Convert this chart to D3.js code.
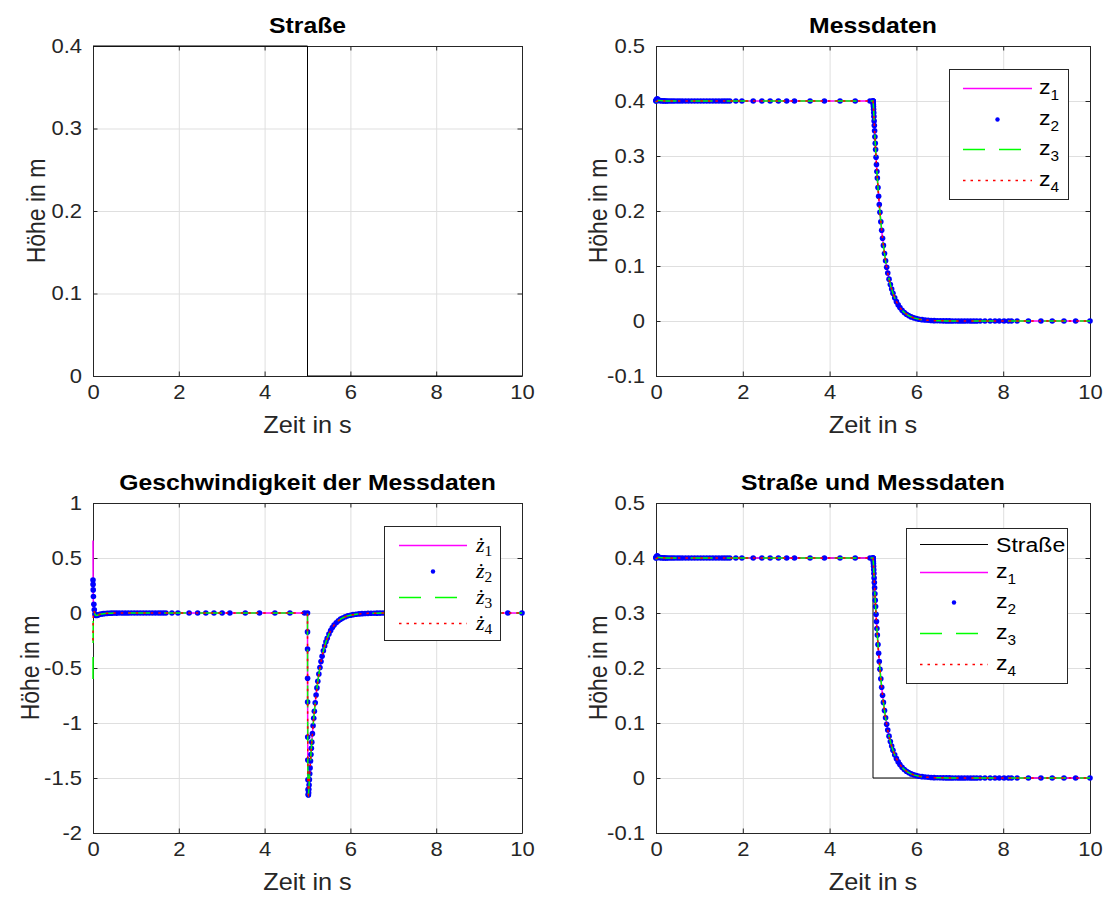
<!DOCTYPE html>
<html>
<head>
<meta charset="utf-8">
<script src="https://cdn.jsdelivr.net/npm/d3@7"></script>
<style>
  body { margin: 0; background: #fff; }
  svg { display: block; }
</style>
</head>
<body>
<svg id="fig" width="1110" height="900"></svg>
<script>
// ---------- data ----------
// road profile (step down at t = 5 s)
const roadTime   = [0, 5, 5, 10];
const roadHeight = [0.4, 0.4, 0, 0];

// solver time samples, split into segments
const timeStart = [0, 0.002, 0.005, 0.01, 0.02, 0.03];
const timeEarly = [0.045, 0.06, 0.08, 0.1, 0.13, 0.16, 0.2, 0.24, 0.28, 0.33,
                   0.38, 0.43, 0.49, 0.55, 0.61, 0.68, 0.75, 0.82, 0.89, 0.96,
                   1.03, 1.1, 1.17, 1.24, 1.31, 1.38, 1.45, 1.52, 1.58, 1.64];
const timeHold  = [1.7, 1.84, 1.98, 2.24, 2.44, 2.63, 2.82, 3.01, 3.19, 3.55, 3.88, 4.24, 4.59, 4.93];
const timeDrop  = [5, 5.0005, 5.001, 5.002, 5.003, 5.005, 5.007, 5.01, 5.013, 5.017,
                   5.021, 5.026, 5.031, 5.037, 5.044, 5.052, 5.06, 5.07, 5.08, 5.09,
                   5.1, 5.115, 5.13, 5.145, 5.16, 5.18, 5.2, 5.22, 5.24, 5.265,
                   5.29, 5.315, 5.34, 5.37, 5.4, 5.43, 5.46, 5.5, 5.54, 5.58,
                   5.62, 5.67, 5.72, 5.77, 5.82, 5.88, 5.94, 6, 6.06, 6.13,
                   6.2, 6.27, 6.34, 6.41, 6.48, 6.55, 6.62, 6.69, 6.76, 6.83,
                   6.9, 6.97, 7.04, 7.11, 7.18, 7.25, 7.32, 7.39, 7.47];
const timeLate  = [7.58, 7.7, 7.81, 7.91, 8.02, 8.12, 8.19, 8.32, 8.58, 8.87, 9.13, 9.4, 9.67, 10];

// measured heights z1..z4 (individual start transients, common afterwards)
const z1Start = [0.4, 0.401, 0.4018, 0.4023, 0.4026, 0.4027];
const z2Start = [0.4, 0.4006, 0.4013, 0.4022, 0.4033, 0.4038];
const z3Start = [0.4, 0.3991, 0.3985, 0.3985, 0.3988, 0.3991];
const z4Start = [0.4, 0.3996, 0.3994, 0.3994, 0.3996, 0.3998];
const zEarly = [0.4012, 0.4011, 0.4009, 0.4007, 0.4005, 0.4003, 0.4002, 0.4001, 0.4, 0.4,
                0.4, 0.4, 0.4, 0.4, 0.4, 0.4, 0.4, 0.4, 0.4, 0.4,
                0.4, 0.4, 0.4, 0.4, 0.4, 0.4, 0.4, 0.4, 0.4, 0.4];
const zHold  = [0.4, 0.4, 0.4, 0.4, 0.4, 0.4, 0.4, 0.4, 0.4, 0.4, 0.4, 0.4, 0.4, 0.4];
const zDrop  = [0.4, 0.39996, 0.39983, 0.39936, 0.39865, 0.39668, 0.39419, 0.38985, 0.38511, 0.37855,
                0.3719, 0.36362, 0.3555, 0.34594, 0.3351, 0.32315, 0.3116, 0.29777, 0.28451, 0.27186,
                0.25982, 0.24268, 0.22667, 0.21173, 0.19778, 0.18059, 0.16491, 0.15058, 0.13749, 0.12275,
                0.10953, 0.09778, 0.08726, 0.07613, 0.06643, 0.05796, 0.05059, 0.04216, 0.03516, 0.02931,
                0.02444, 0.01948, 0.01551, 0.01236, 0.00986, 0.00749, 0.00569, 0.00434, 0.00331, 0.00241,
                0.00176, 0.00127, 0.00094, 0.00065, 0.00049, 0.00036, 0.00026, 0.00019, 0.00014, 0.0001,
                0.00007, 0.00005, 0.00004, 0.00003, 0.00002, 0.00001, 0.00001, 0.00001, 0];
const zLate  = [0, 0, 0, 0, 0, 0, 0, 0, 0, 0, 0, 0, 0, 0];

// vertical speeds dz1..dz4
const dz1Start = [0.66, 0.38, 0.16, 0.05, 0.02, 0];
const dz2Start = [0.3, 0.26, 0.21, 0.15, 0.08, 0.03];
const dz3Start = [-0.6, -0.3, -0.08, 0.02, 0.03, 0.01];
const dz4Start = [-0.25, -0.12, -0.03, 0.01, 0.02, 0.01];
const dzEarly = [-0.01, -0.02, -0.022, -0.02, -0.016, -0.012, -0.009, -0.006, -0.004, -0.003,
                 -0.002, -0.0015, -0.001, -0.0007, -0.0005, -0.0003, -0.0002, -0.0001, 0, 0,
                 0, 0, 0, 0, 0, 0, 0, 0, 0, 0];
const dzHold  = [0, 0, 0, 0, 0, 0, 0, 0, 0, 0, 0, 0, 0, 0];
const dzDrop  = [0, -0.172, -0.327, -0.593, -0.81, -1.128, -1.336, -1.517, -1.606, -1.651,
                 -1.654, -1.634, -1.603, -1.563, -1.515, -1.461, -1.408, -1.346, -1.286, -1.229,
                 -1.174, -1.097, -1.025, -0.957, -0.894, -0.816, -0.745, -0.681, -0.621, -0.555,
                 -0.495, -0.442, -0.394, -0.344, -0.3, -0.262, -0.229, -0.191, -0.159, -0.132,
                 -0.11, -0.088, -0.07, -0.056, -0.045, -0.034, -0.026, -0.02, -0.015, -0.011,
                 -0.008, -0.006, -0.004, -0.003, -0.002, -0.0016, -0.0012, -0.0008, -0.0006, -0.0004,
                 -0.0003, -0.0002, -0.0002, -0.0001, -0.0001, -0.0001, 0, 0, 0];
const dzLate  = [0, 0, 0, 0, 0, 0, 0, 0, 0, 0, 0, 0, 0, 0];

// tick values
const xTicks      = [0, 2, 4, 6, 8, 10];
const roadTicks   = [0, 0.1, 0.2, 0.3, 0.4];
const heightTicks = [-0.1, 0, 0.1, 0.2, 0.3, 0.4, 0.5];
const speedTicks  = [-2, -1.5, -1, -0.5, 0, 0.5, 1];

// ---------- assemble series ----------
const timeAll = timeStart.concat(timeEarly, timeHold, timeDrop, timeLate);
const zCommon  = zEarly.concat(zHold, zDrop, zLate);
const dzCommon = dzEarly.concat(dzHold, dzDrop, dzLate);
const zSeries  = [z1Start, z2Start, z3Start, z4Start].map(s => s.concat(zCommon));
const dzSeries = [dz1Start, dz2Start, dz3Start, dz4Start].map(s => s.concat(dzCommon));

// ---------- styling ----------
const SX = 1.1;                      // horizontal text stretch
const FONT = '"Liberation Sans", Arial, Helvetica, sans-serif';
const SERIF = '"Liberation Serif", "Times New Roman", serif';
const AXIS = '#262626';
const GRID = '#dfdfdf';
const TICK = 4.5;

const styles = {
  road: { stroke: '#000000', width: 1 },
  z1:   { stroke: '#ff00ff', width: 1.5 },
  z2:   { marker: '#0000ff', r: 2.8, legendR: 2.2 },
  z3:   { stroke: '#00ff00', width: 1.5, dash: '22,14' },
  z4:   { stroke: '#ff0000', width: 1.5, dash: '2.5,5' }
};
const seriesKeys = ['z1', 'z2', 'z3', 'z4'];

const svg = d3.select('#fig');

function addText(parent, x, y, str, o = {}) {
  const t = parent.append('text')
    .attr('transform', `translate(${x},${y}) scale(${SX},1)` + (o.rotate ? ' rotate(-90)' : ''))
    .attr('font-family', o.family || FONT)
    .attr('font-size', o.size || 20)
    .attr('font-weight', o.weight || 'normal')
    .attr('font-style', o.style || 'normal')
    .attr('fill', o.fill || '#000')
    .attr('text-anchor', o.anchor || 'start');
  if (o.dy) t.attr('dy', o.dy);
  t.text(str);
  return t;
}

function makePanel(box, yDomain, yTicks, title) {
  const g = svg.append('g');
  const x = d3.scaleLinear().domain([0, 10]).range([box.x0, box.x1]);
  const y = d3.scaleLinear().domain(yDomain).range([box.y1, box.y0]);
  const w = box.x1 - box.x0, h = box.y1 - box.y0;
  const fmt = v => String(v);

  // grid
  g.append('g').attr('transform', `translate(0,${box.y1})`)
    .call(d3.axisBottom(x).tickValues(xTicks).tickSize(-h).tickFormat(''))
    .call(a => { a.select('.domain').remove(); a.selectAll('line').attr('stroke', GRID); });
  g.append('g').attr('transform', `translate(${box.x0},0)`)
    .call(d3.axisLeft(y).tickValues(yTicks).tickSize(-w).tickFormat(''))
    .call(a => { a.select('.domain').remove(); a.selectAll('line').attr('stroke', GRID); });

  const styleAxis = a => {
    a.attr('font-family', FONT).attr('font-size', 20);
    a.select('.domain').attr('stroke', AXIS);
    a.selectAll('line').attr('stroke', AXIS);
    a.selectAll('text').attr('fill', AXIS).attr('transform', `scale(${SX},1)`);
  };
  g.append('g').attr('transform', `translate(0,${box.y1})`)
    .call(d3.axisBottom(x).tickValues(xTicks).tickSizeInner(-TICK).tickSizeOuter(0).tickPadding(9).tickFormat(fmt))
    .call(styleAxis);
  g.append('g').attr('transform', `translate(0,${box.y0})`)
    .call(d3.axisTop(x).tickValues(xTicks).tickSizeInner(-TICK).tickSizeOuter(0).tickFormat(''))
    .call(styleAxis);
  g.append('g').attr('transform', `translate(${box.x0},0)`)
    .call(d3.axisLeft(y).tickValues(yTicks).tickSizeInner(-TICK).tickSizeOuter(0).tickPadding(10).tickFormat(fmt))
    .call(styleAxis);
  g.append('g').attr('transform', `translate(${box.x1},0)`)
    .call(d3.axisRight(y).tickValues(yTicks).tickSizeInner(-TICK).tickSizeOuter(0).tickFormat(''))
    .call(styleAxis);

  // labels
  const cx = (box.x0 + box.x1) / 2, cy = (box.y0 + box.y1) / 2;
  addText(g, cx, box.y0 - 13, title, { size: 22.5, weight: 'bold', anchor: 'middle' });
  addText(g, cx, box.y1 + 57, 'Zeit in s', { size: 23, anchor: 'middle', fill: AXIS });
  addText(g, box.ylab, cy, 'Höhe in m', { size: 23, anchor: 'middle', fill: AXIS, rotate: true, dy: '0.35em' });

  const data = g.append('g');
  return { g, data, x, y };
}

function drawSeries(p, t, v, st) {
  const pts = t.map((ti, i) => [ti, v[i]]);
  if (st.marker) {
    p.data.append('g').selectAll('circle').data(pts).join('circle')
      .attr('cx', d => p.x(d[0])).attr('cy', d => p.y(d[1]))
      .attr('r', st.r).attr('fill', st.marker);
  } else {
    const line = d3.line().x(d => p.x(d[0])).y(d => p.y(d[1]));
    p.data.append('path').attr('d', line(pts))
      .attr('fill', 'none').attr('stroke', st.stroke)
      .attr('stroke-width', st.width)
      .attr('stroke-dasharray', st.dash || null);
  }
}

function drawLegend(box, rows) {
  const g = svg.append('g');
  g.append('rect').attr('x', box.x).attr('y', box.y).attr('width', box.w).attr('height', box.h)
    .attr('fill', '#fff').attr('stroke', AXIS).attr('stroke-width', 1);
  rows.forEach(r => {
    const st = styles[r.key];
    if (st.marker) {
      g.append('circle').attr('cx', (box.s0 + box.s1) / 2).attr('cy', r.y).attr('r', st.legendR).attr('fill', st.marker);
    } else {
      g.append('line').attr('x1', box.s0).attr('x2', box.s1).attr('y1', r.y).attr('y2', r.y)
        .attr('stroke', st.stroke).attr('stroke-width', st.width)
        .attr('stroke-dasharray', st.dash || null);
    }
    if (r.math) {
      const t = addText(g, box.tx, r.y + 6, '', { size: 20, family: SERIF });
      t.append('tspan').attr('font-style', 'italic').text('ż');
      t.append('tspan').attr('font-size', 14).attr('dy', 4.5).text(r.sub);
    } else if (r.sub) {
      const t = addText(g, box.tx, r.y + 5.5, '', { size: 21 });
      t.append('tspan').text(r.label);
      t.append('tspan').attr('font-size', 14).attr('dy', 6).text(r.sub);
    } else {
      addText(g, box.tx, r.y + 7.5, r.label, { size: 21 });
    }
  });
}

// ---------- panels ----------
const pRoad  = makePanel({ x0: 93,  x1: 522,  y0: 46,  y1: 376, ylab: 36 },  [0, 0.4],  roadTicks,   'Straße');
const pMeas  = makePanel({ x0: 656, x1: 1090, y0: 46,  y1: 376, ylab: 598 }, [-0.1, 0.5], heightTicks, 'Messdaten');
const pSpeed = makePanel({ x0: 93,  x1: 522,  y0: 503, y1: 833, ylab: 30 },  [-2, 1],   speedTicks,  'Geschwindigkeit der Messdaten');
const pBoth  = makePanel({ x0: 656, x1: 1090, y0: 503, y1: 833, ylab: 598 }, [-0.1, 0.5], heightTicks, 'Straße und Messdaten');

drawSeries(pRoad, roadTime, roadHeight, styles.road);

seriesKeys.forEach((k, i) => drawSeries(pMeas, timeAll, zSeries[i], styles[k]));
seriesKeys.forEach((k, i) => drawSeries(pSpeed, timeAll, dzSeries[i], styles[k]));
drawSeries(pBoth, roadTime, roadHeight, styles.road);
seriesKeys.forEach((k, i) => drawSeries(pBoth, timeAll, zSeries[i], styles[k]));

// ---------- legends ----------
drawLegend({ x: 949.5, y: 69.5, w: 119, h: 130, s0: 963, s1: 1032, tx: 1039 }, [
  { key: 'z1', label: 'z', sub: '1', y: 88.5 },
  { key: 'z2', label: 'z', sub: '2', y: 119.5 },
  { key: 'z3', label: 'z', sub: '3', y: 149.5 },
  { key: 'z4', label: 'z', sub: '4', y: 180.5 }
]);
drawLegend({ x: 384.5, y: 526.5, w: 116, h: 114, s0: 399, s1: 467, tx: 476 }, [
  { key: 'z1', math: true, sub: '1', y: 545.5 },
  { key: 'z2', math: true, sub: '2', y: 571.5 },
  { key: 'z3', math: true, sub: '3', y: 597.5 },
  { key: 'z4', math: true, sub: '4', y: 623.5 }
]);
drawLegend({ x: 906.5, y: 528.5, w: 161, h: 155, s0: 920, s1: 988, tx: 996 }, [
  { key: 'road', label: 'Straße', y: 544.5 },
  { key: 'z1', label: 'z', sub: '1', y: 572.5 },
  { key: 'z2', label: 'z', sub: '2', y: 602.5 },
  { key: 'z3', label: 'z', sub: '3', y: 633.5 },
  { key: 'z4', label: 'z', sub: '4', y: 664.5 }
]);
</script>
</body>
</html>
